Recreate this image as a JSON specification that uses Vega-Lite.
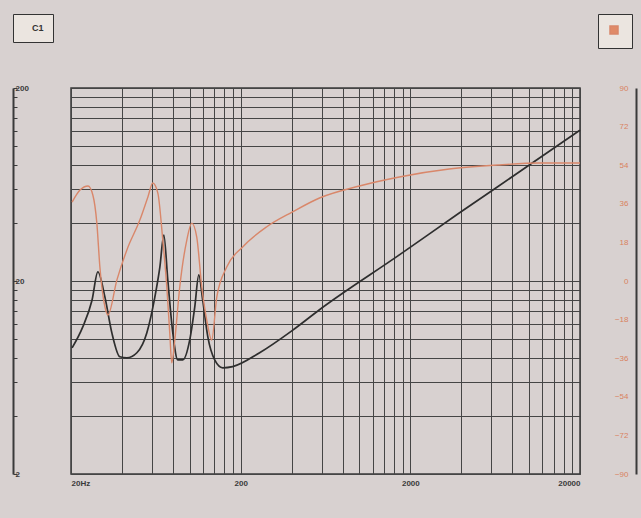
{
  "$schema": "https://vega.github.io/schema/vega-lite/v6.json",
  "width": 509,
  "height": 386,
  "autosize": {"type": "none"},
  "padding": {"left": 71, "top": 88, "right": 61, "bottom": 44},
  "background": "#d8d1d0",
  "config": {
    "view": {"stroke": "#3a3a3a", "strokeWidth": 1.5},
    "font": "Liberation Sans",
    "axis": {"labelFont": "Liberation Sans", "labelFontSize": 8, "labelFontWeight": "bold", "labelColor": "#3a3a3a", "gridColor": "#454545", "gridOpacity": 1, "gridWidth": 1, "labelOverlap": false, "labelBound": false}
  },
  "datasets": {
    "imp": [
      {"freq": 20.3, "ohm": 9.0}, {"freq": 23.5, "ohm": 11.6}, {"freq": 26.6, "ohm": 15.9}, {"freq": 28.8, "ohm": 22.3},
      {"freq": 31.7, "ohm": 16.5}, {"freq": 34.8, "ohm": 10.8}, {"freq": 38.8, "ohm": 8.1}, {"freq": 42.7, "ohm": 8.0},
      {"freq": 48.9, "ohm": 8.5}, {"freq": 56.0, "ohm": 10.8}, {"freq": 62.4, "ohm": 16.5}, {"freq": 66.8, "ohm": 23.6},
      {"freq": 70.5, "ohm": 34.6}, {"freq": 74.4, "ohm": 20.2}, {"freq": 79.6, "ohm": 10.8}, {"freq": 85.2, "ohm": 7.8},
      {"freq": 91.2, "ohm": 7.8}, {"freq": 100.2, "ohm": 9.9}, {"freq": 107.3, "ohm": 14.7}, {"freq": 113.3, "ohm": 21.5},
      {"freq": 119.5, "ohm": 15.9}, {"freq": 128, "ohm": 10.3}, {"freq": 140.6, "ohm": 7.8}, {"freq": 156.8, "ohm": 7.1},
      {"freq": 179.5, "ohm": 7.2}, {"freq": 258.7, "ohm": 8.5}, {"freq": 404, "ohm": 11.1}, {"freq": 583, "ohm": 14.2},
      {"freq": 1723, "ohm": 27.3}, {"freq": 3883, "ohm": 45.0}, {"freq": 8753, "ohm": 73.4}, {"freq": 20000, "ohm": 121}
    ],
    "phase": [
      {"freq": 20.3, "deg": 36.8}, {"freq": 22.6, "deg": 42.4}, {"freq": 25.2, "deg": 44.3}, {"freq": 26.9, "deg": 40.1},
      {"freq": 28.4, "deg": 27}, {"freq": 29.6, "deg": 6.5}, {"freq": 31.7, "deg": -12.1}, {"freq": 33.0, "deg": -15.9},
      {"freq": 37.3, "deg": 0.5}, {"freq": 42.7, "deg": 14.5}, {"freq": 50.9, "deg": 28.4}, {"freq": 56.8, "deg": 39.2},
      {"freq": 60.7, "deg": 45.7}, {"freq": 65.0, "deg": 41}, {"freq": 69.5, "deg": 19.1}, {"freq": 73.4, "deg": -2.8},
      {"freq": 76.4, "deg": -24.2}, {"freq": 78.5, "deg": -38.2}, {"freq": 81.8, "deg": -27.5}, {"freq": 87.5, "deg": -2.8},
      {"freq": 96.3, "deg": 19.1}, {"freq": 103, "deg": 27}, {"freq": 110.2, "deg": 20.5}, {"freq": 118, "deg": -2.8},
      {"freq": 126.2, "deg": -18.2}, {"freq": 135, "deg": -27.5}, {"freq": 144.6, "deg": -7.5}, {"freq": 165.5, "deg": 6.5},
      {"freq": 205.6, "deg": 15.9}, {"freq": 284, "deg": 25.2}, {"freq": 404, "deg": 32.2}, {"freq": 583, "deg": 38.7},
      {"freq": 1002, "deg": 44.3}, {"freq": 1723, "deg": 48.5}, {"freq": 3391, "deg": 52.2}, {"freq": 6676, "deg": 54.1},
      {"freq": 11470, "deg": 55}, {"freq": 20000, "deg": 55}
    ]
  },
  "layer": [
    {
      "data": {"name": "imp"},
      "mark": {"type": "line", "interpolate": "monotone", "strokeWidth": 1.7},
      "encoding": {
        "x": {
          "field": "freq", "type": "quantitative",
          "scale": {"type": "log", "domain": [20, 20000], "nice": false},
          "axis": {
            "title": null, "orient": "bottom", "domain": false, "ticks": false, "labelPadding": 5,
            "values": [20, 40, 60, 80, 100, 120, 140, 160, 180, 200, 400, 600, 800, 1000, 1200, 1400, 1600, 1800, 2000, 4000, 6000, 8000, 10000, 12000, 14000, 16000, 18000, 20000],
            "labelExpr": "datum.value == 20 ? '20Hz' : (datum.value == 200 || datum.value == 2000 || datum.value == 20000 ? datum.value + '' : '')"
          }
        },
        "y": {
          "field": "ohm", "type": "quantitative",
          "scale": {"type": "log", "domain": [2, 200], "nice": false},
          "axis": {
            "title": null, "orient": "left", "offset": 58, "domain": true, "domainColor": "#3a3a3a", "domainWidth": 2,
            "ticks": true, "tickSize": -4, "tickColor": "#3a3a3a", "labelAlign": "left", "labelPadding": 2,
            "values": [2, 4, 6, 8, 10, 12, 14, 16, 18, 20, 40, 60, 80, 100, 120, 140, 160, 180, 200],
            "labelExpr": "datum.value == 2 || datum.value == 20 || datum.value == 200 ? datum.value + '' : ''"
          }
        },
        "color": {
          "datum": "C1",
          "scale": {"range": ["#2e2e2e"]},
          "legend": {
            "orient": "none", "legendX": -58, "legendY": -74, "title": null,
            "symbolOpacity": 0, "symbolSize": 60, "labelOffset": 0, "labelFontSize": 9, "labelFontWeight": "bold", "labelColor": "#333333",
            "strokeColor": "#333333", "fillColor": "#ebe5e0", "padding": 9
          }
        }
      }
    },
    {
      "data": {"name": "phase"},
      "mark": {"type": "line", "interpolate": "monotone", "strokeWidth": 1.4},
      "encoding": {
        "x": {"field": "freq", "type": "quantitative"},
        "y": {
          "field": "deg", "type": "quantitative",
          "scale": {"domain": [-90, 90], "nice": false},
          "axis": {
            "title": null, "orient": "right", "offset": 56, "domain": true, "domainColor": "#3a3a3a", "domainWidth": 2,
            "ticks": false, "grid": false, "labelAlign": "right", "labelPadding": -8, "labelColor": "#d8825f", "labelFontWeight": "normal",
            "values": [-90, -72, -54, -36, -18, 0, 18, 36, 54, 72, 90]
          }
        },
        "stroke": {
          "datum": "C2",
          "scale": {"range": ["#d9876a"]},
          "legend": {
            "orient": "none", "legendX": 527, "legendY": -74, "title": null,
            "symbolType": "square", "symbolSize": 64, "symbolFillColor": "#e08a68", "symbolStrokeColor": "#e08a68",
            "labelExpr": "''", "labelOffset": 0,
            "strokeColor": "#333333", "fillColor": "#ebe5e0", "padding": 11
          }
        }
      }
    }
  ],
  "resolve": {"scale": {"y": "independent"}}
}
